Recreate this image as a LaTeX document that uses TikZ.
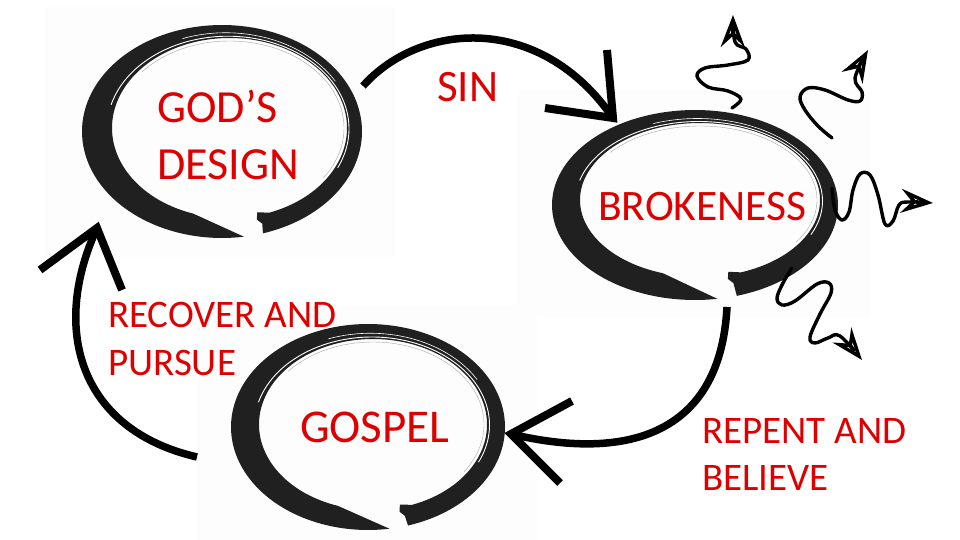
\documentclass[tikz,border=0pt]{standalone}
\usepackage{fontspec}
\setmainfont{Carlito}
\usetikzlibrary{arrows.meta}
\definecolor{ink}{RGB}{32,32,32}
\definecolor{lbl}{RGB}{222,0,0}
\definecolor{paper}{RGB}{253,253,253}
\newcommand\ensostroke[6]{%
  \fill[ink] plot[domain=73:-279,samples=160] ({#1*cos(\x)},{#2*sin(\x)})
    -- plot[domain=-252:70,samples=160] ({#3+#5*cos(\x)},{#4+#6*sin(\x)})
    -- ({#3+(#5-3)*cos(76)},{#4+(#6-3)*sin(76)})
    -- ({#3+(#5+4)*cos(77)},{#4+(#6+4)*sin(77)})
    -- ({#3+(#5+9)*cos(75)},{#4+(#6+9)*sin(75)}) -- cycle;
  \draw[white,line width=0.9] plot[domain=-165:25,samples=100]
    ({#3*0.8+(#5+3.5)*cos(\x)},{#4*0.8+(#6+2.5)*sin(\x)});
  \draw[white,line width=0.6] plot[domain=-110:-30,samples=60]
    ({#3*0.5+(#5+9)*cos(\x)},{#4*0.5+(#6+7)*sin(\x)});
  \draw[black!35,line width=0.4] plot[domain=-140:35,samples=100]
    ({#3+(#5-3)*cos(\x)},{#4+(#6-3)*sin(\x)});
}
\tikzset{
  bigarrow/.style={line width=7.5pt, draw=black},
  chev/.style={line width=8pt, draw=black, line join=miter, miter limit=20},
  squig/.style={line width=3.4pt, draw=black, line cap=round, line join=round,
    -{Stealth[open, length=32pt, width=24pt, inset=11pt, line width=3.4pt]}},
  lab/.style={text=lbl, inner sep=0pt, align=left},
}
\begin{document}
\begin{tikzpicture}[x=1pt, y=-1pt]
\useasboundingbox (0,0) rectangle (960,540);
\fill[white] (0,0) rectangle (960,540);
% faint picture backgrounds
\fill[paper] (45,7) rectangle (395,258);
\fill[paper] (517,90) rectangle (870,317);
\fill[paper] (197,305) rectangle (537,540);
% enso strokes
\begin{scope}[shift={(222,131.5)}]
  \ensostroke{140}{106.5}{7.5}{-3.5}{117.5}{90}
\end{scope}
\begin{scope}[shift={(695,205)}]
  \ensostroke{143}{95}{5}{-5}{120}{77}
\end{scope}
\begin{scope}[shift={(368,427)}]
  \ensostroke{137}{103}{5}{-2.5}{114}{85.5}
\end{scope}
% connector end points
\coordinate (sinS) at (363,86);
\coordinate (sinT) at (613,118);
\coordinate (sinA) at (607,50);
\coordinate (sinB) at (545,108);
\coordinate (repS) at (727,307);
\coordinate (repT) at (511,434);
\coordinate (repA) at (572,401);
\coordinate (repB) at (560,483);
\coordinate (recS) at (197,457);
\coordinate (recT) at (97,228);
\coordinate (recA) at (40,270);
\coordinate (recB) at (122,290);
% big arrows
\draw[bigarrow] (sinS) .. controls (420,22) and (540,12) .. (sinT);
\draw[chev] (sinA) -- (sinT) -- (sinB);
\draw[bigarrow] (repS) .. controls (720,440) and (620,460) .. (repT);
\draw[chev] (repA) -- (repT) -- (repB);
\draw[bigarrow] (recS) .. controls (80,430) and (50,330) .. (recT);
\draw[chev] (recA) -- (recT) -- (recB);
% squiggly arrows out of brokenness
\draw[squig] plot[smooth, tension=0.6] coordinates {(732,108) (741,99) (728,91) (708,87) (697,76) (705,68) (728,65) (748,60) (746,49) (735,42) (733,15)};
\draw[squig] plot[smooth, tension=0.6] coordinates {(832,138) (818,126) (805,110) (800,97) (808,88) (825,90) (848,100) (860,101) (862,92) (855,78) (868,50)};
\draw[squig] plot[smooth, tension=0.6] coordinates {(832,188) (835,210) (842,220) (849,212) (853,190) (860,174) (870,175) (878,195) (885,224) (893,221) (899,205) (908,202) (933,203)};
\draw[squig] plot[smooth, tension=0.6] coordinates {(792,268) (783,283) (777,298) (782,305) (795,301) (817,284) (829,283) (831,293) (820,314) (810,337) (815,343) (828,338) (840,336) (862,360)};
% labels
\node[lab, anchor=north west, font=\fontsize{46}{57}\selectfont] (gods) at (157,90) {GOD’S\\DESIGN};
\node[lab, anchor=base west, font=\fontsize{45}{54}\selectfont] (sin) at (437,102) {SIN};
\node[lab, anchor=base west, font=\fontsize{43.5}{52}\selectfont] (brok) at (598,220) {BROKENESS};
\node[lab, anchor=north west, font=\fontsize{39}{48}\selectfont] (recov) at (108,302) {RECOVER AND\\PURSUE};
\node[lab, anchor=base west, font=\fontsize{47}{56}\selectfont] (gosp) at (300,442) {GOSPEL};
\node[lab, anchor=north west, font=\fontsize{39}{47}\selectfont] (repent) at (702,418) {REPENT AND\\BELIEVE};
\end{tikzpicture}
\end{document}
